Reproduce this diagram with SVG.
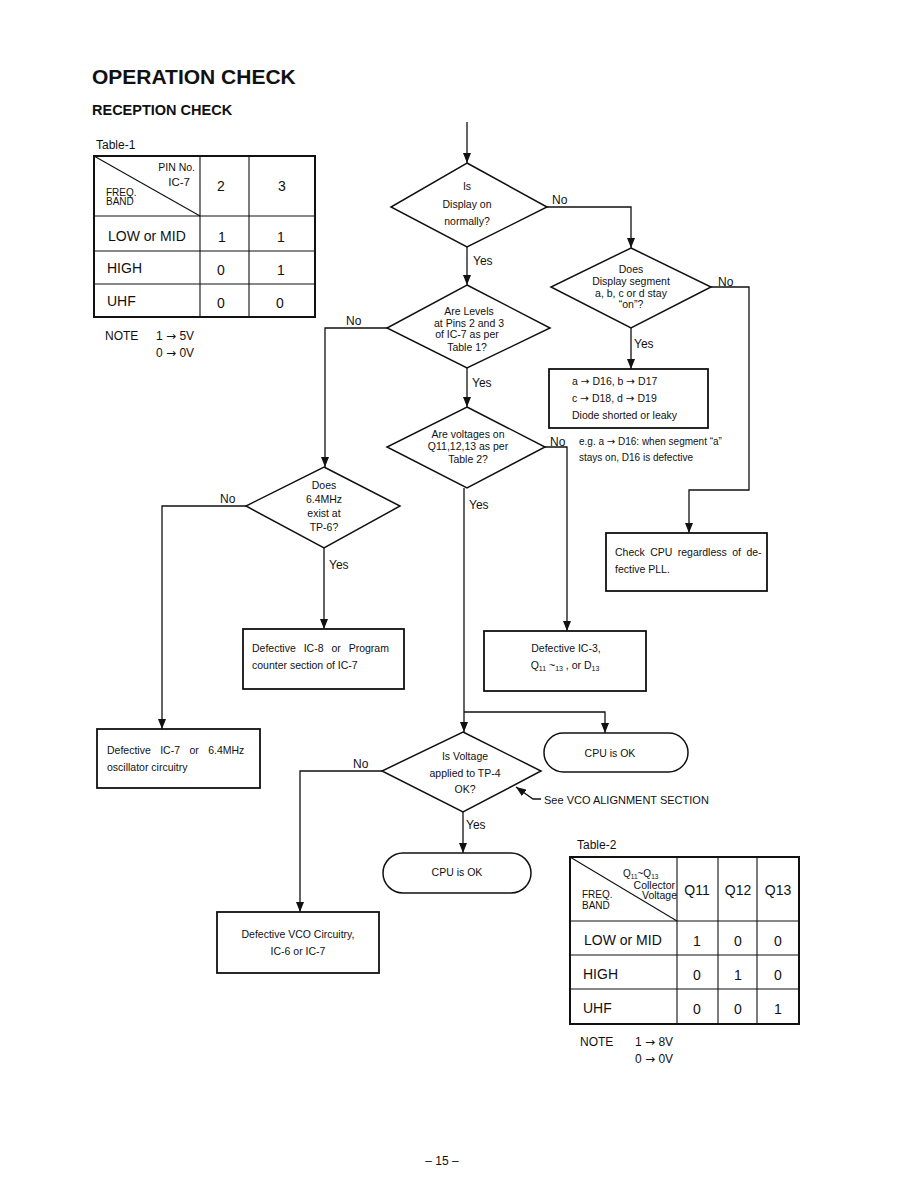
<svg xmlns="http://www.w3.org/2000/svg" width="918" height="1188" viewBox="0 0 918 1188">
<style>
text{font-family:"Liberation Sans",Arial,sans-serif;fill:#111}
.t{font-size:10.5px}
.c{text-anchor:middle}
.lbl{font-size:12px}
.shape{fill:none;stroke:#111;stroke-width:1.5}
.box{fill:none;stroke:#111;stroke-width:1.8}
.conn{fill:none;stroke:#111;stroke-width:1.3}
.tb{fill:none;stroke:#111;stroke-width:2}
.tl{fill:none;stroke:#111;stroke-width:1.1}
.cell{font-size:14px}
.ar{font-family:"DejaVu Sans",sans-serif}
</style>
<defs>
<marker id="ar" markerUnits="userSpaceOnUse" markerWidth="10" markerHeight="8" refX="10" refY="4" orient="auto" viewBox="0 0 10 8">
<path d="M0,0 L10,4 L0,8 z" fill="#111"/>
</marker>
</defs>
<rect width="918" height="1188" fill="#fff"/>

<text x="92" y="84" style="font-size:21px;font-weight:bold">OPERATION CHECK</text>
<text x="92" y="115" style="font-size:14.5px;font-weight:bold">RECEPTION CHECK</text>

<g id="table1">
<text x="96" y="149" style="font-size:12px">Table-1</text>
<rect x="94" y="156" width="221" height="161" class="tb"/>
<path d="M200,156 V317 M249,156 V317 M94,216 H315 M94,251 H315 M94,284 H315" class="tl"/>
<path d="M94,156 L200,216" class="tl"/>
<text x="195" y="171" style="font-size:10.5px" text-anchor="end">PIN No.</text>
<text x="190" y="186" style="font-size:11.5px" text-anchor="end">IC-7</text>
<text x="106" y="196" style="font-size:10px">FREQ.</text>
<text x="106" y="205" style="font-size:10px">BAND</text>
<text x="221" y="191" class="cell c">2</text>
<text x="282" y="191" class="cell c">3</text>
<text x="108" y="241" class="cell">LOW or MID</text>
<text x="222" y="242" class="cell c">1</text>
<text x="281" y="242" class="cell c">1</text>
<text x="107" y="273" class="cell">HIGH</text>
<text x="221" y="275" class="cell c">0</text>
<text x="281" y="275" class="cell c">1</text>
<text x="107" y="306" class="cell">UHF</text>
<text x="221" y="308" class="cell c">0</text>
<text x="280" y="308" class="cell c">0</text>
<text x="105" y="340" style="font-size:12px">NOTE</text>
<text x="156" y="340" style="font-size:12px">1 <tspan class="ar">→</tspan> 5V</text>
<text x="156" y="357" style="font-size:12px">0 <tspan class="ar">→</tspan> 0V</text>
</g>

<g id="connectors">
<path d="M467,122 V163" class="conn" marker-end="url(#ar)"/>
<path d="M547,207 H631 V248" class="conn" marker-end="url(#ar)"/>
<path d="M467,247 V285" class="conn" marker-end="url(#ar)"/>
<path d="M711,287 H749 V490 H689 V533" class="conn" marker-end="url(#ar)"/>
<path d="M631,328 V369" class="conn" marker-end="url(#ar)"/>
<path d="M387,328 H325 V467" class="conn" marker-end="url(#ar)"/>
<path d="M467,368 V407" class="conn" marker-end="url(#ar)"/>
<path d="M545,447 H567 V631" class="conn" marker-end="url(#ar)"/>
<path d="M246,506 H162 V729" class="conn" marker-end="url(#ar)"/>
<path d="M324,548 V629" class="conn" marker-end="url(#ar)"/>
<path d="M464,488 V732" class="conn" marker-end="url(#ar)"/>
<path d="M464,712 H605 V733" class="conn" marker-end="url(#ar)"/>
<path d="M382,771 H300 V912" class="conn" marker-end="url(#ar)"/>
<path d="M463,812 V853" class="conn" marker-end="url(#ar)"/>
<path d="M541,799 H533 L516,787" class="conn" marker-end="url(#ar)"/>
<text x="552" y="204" class="lbl">No</text>
<text x="473" y="265" class="lbl">Yes</text>
<text x="718" y="286" class="lbl">No</text>
<text x="634" y="348" class="lbl">Yes</text>
<text x="346" y="325" class="lbl">No</text>
<text x="472" y="387" class="lbl">Yes</text>
<text x="550" y="446" class="lbl">No</text>
<text x="220" y="503" class="lbl">No</text>
<text x="329" y="569" class="lbl">Yes</text>
<text x="469" y="509" class="lbl">Yes</text>
<text x="353" y="768" class="lbl">No</text>
<text x="466" y="829" class="lbl">Yes</text>
<text x="544" y="804" style="font-size:11px">See VCO ALIGNMENT SECTION</text>
</g>

<g id="d-display">
<path d="M467,163 L547,207 L467,247 L391,207 Z" class="shape"/>
<text x="467" y="190" class="t c">Is</text>
<text x="467" y="208" class="t c">Display on</text>
<text x="467" y="225" class="t c">normally?</text>
</g>

<g id="d-segment">
<path d="M631,248 L711,287 L631,328 L551,287 Z" class="shape"/>
<text x="631" y="273" class="t c">Does</text>
<text x="631" y="285" class="t c">Display segment</text>
<text x="631" y="297" class="t c">a, b, c or d stay</text>
<text x="631" y="308" class="t c">“on”?</text>
</g>

<g id="d-levels">
<path d="M467,285 L550,328 L467,368 L387,328 Z" class="shape"/>
<text x="469" y="315" class="t c">Are Levels</text>
<text x="469" y="327" class="t c">at Pins 2 and 3</text>
<text x="467" y="338" class="t c">of IC-7 as per</text>
<text x="467" y="351" class="t c">Table 1?</text>
</g>

<g id="box-diode">
<rect x="549" y="369" width="159" height="59" class="box"/>
<text x="572" y="385" class="t">a <tspan class="ar">→</tspan> D16, b <tspan class="ar">→</tspan> D17</text>
<text x="572" y="402" class="t">c <tspan class="ar">→</tspan> D18, d <tspan class="ar">→</tspan> D19</text>
<text x="572" y="419" class="t">Diode shorted or leaky</text>
</g>
<g id="note-eg">
<text x="579" y="445" style="font-size:10px">e.g. a <tspan class="ar">→</tspan> D16: when segment “a”</text>
<text x="579" y="461" style="font-size:10px">stays on, D16 is defective</text>
</g>

<g id="d-voltages">
<path d="M467,407 L545,447 L467,488 L387,447 Z" class="shape"/>
<text x="468" y="438" class="t c">Are voltages on</text>
<text x="468" y="450" class="t c">Q11,12,13 as per</text>
<text x="468" y="463" class="t c">Table 2?</text>
</g>

<g id="d-64mhz">
<path d="M324,467 L400,506 L324,548 L246,506 Z" class="shape"/>
<text x="324" y="489" class="t c">Does</text>
<text x="324" y="503" class="t c">6.4MHz</text>
<text x="324" y="517" class="t c">exist at</text>
<text x="324" y="531" class="t c">TP-6?</text>
</g>

<g id="box-checkcpu">
<rect x="606" y="533" width="161" height="58" class="box"/>
<text x="615" y="556" class="t" style="word-spacing:2.5px">Check CPU regardless of de-</text>
<text x="615" y="573" class="t">fective PLL.</text>
</g>

<g id="box-ic8">
<rect x="243" y="629" width="161" height="60" class="box"/>
<text x="252" y="652" class="t" style="word-spacing:5px">Defective IC-8 or Program</text>
<text x="252" y="669" class="t">counter section of IC-7</text>
</g>

<g id="box-ic3">
<rect x="484" y="631" width="162" height="60" class="box"/>
<text x="566" y="652" class="t c">Defective IC-3,</text>
<text x="565" y="669" class="t c">Q<tspan style="font-size:7px" dy="2">11</tspan><tspan dy="-2"> ~</tspan><tspan style="font-size:7px" dy="2">13</tspan><tspan dy="-2"> , or D</tspan><tspan style="font-size:7px" dy="2">13</tspan></text>
</g>

<g id="box-ic7">
<rect x="97" y="729" width="163" height="59" class="box"/>
<text x="107" y="754" class="t" style="word-spacing:6.5px">Defective IC-7 or 6.4MHz</text>
<text x="107" y="771" class="t">oscillator circuitry</text>
</g>

<g id="t-cpuok1">
<rect x="544" y="733" width="144" height="39" rx="19.5" class="shape"/>
<text x="610" y="757" class="t c">CPU is OK</text>
</g>

<g id="d-tp4">
<path d="M463,732 L541,771 L463,812 L382,771 Z" class="shape"/>
<text x="465" y="760" class="t c">Is Voltage</text>
<text x="465" y="777" class="t c">applied to TP-4</text>
<text x="465" y="793" class="t c">OK?</text>
</g>

<g id="t-cpuok2">
<rect x="383" y="853" width="148" height="40" rx="20" class="shape"/>
<text x="457" y="876" class="t c">CPU is OK</text>
</g>

<g id="box-vco">
<rect x="217" y="912" width="162" height="61" class="box"/>
<text x="298" y="938" class="t c">Defective VCO Circuitry,</text>
<text x="298" y="955" class="t c">IC-6 or IC-7</text>
</g>

<g id="table2">
<text x="577" y="849" style="font-size:12px">Table-2</text>
<rect x="570" y="857" width="229" height="167" class="tb"/>
<path d="M677,857 V1024 M718,857 V1024 M757,857 V1024 M570,921 H799 M570,955 H799 M570,989 H799" class="tl"/>
<path d="M570,857 L677,921" class="tl"/>
<text x="623" y="877" style="font-size:10px">Q<tspan style="font-size:6.5px" dy="2">11</tspan><tspan dy="-2">~Q</tspan><tspan style="font-size:6.5px" dy="2">13</tspan></text>
<text x="675" y="889" style="font-size:10.5px" text-anchor="end">Collector</text>
<text x="677" y="899" style="font-size:10.5px" text-anchor="end">Voltage</text>
<text x="582" y="898" style="font-size:10px">FREQ.</text>
<text x="582" y="909" style="font-size:10px">BAND</text>
<text x="697" y="895" class="cell c">Q11</text>
<text x="738" y="895" class="cell c">Q12</text>
<text x="778" y="895" class="cell c">Q13</text>
<text x="584" y="945" class="cell">LOW or MID</text>
<text x="697" y="946" class="cell c">1</text>
<text x="738" y="946" class="cell c">0</text>
<text x="778" y="946" class="cell c">0</text>
<text x="583" y="979" class="cell">HIGH</text>
<text x="697" y="980" class="cell c">0</text>
<text x="738" y="980" class="cell c">1</text>
<text x="778" y="980" class="cell c">0</text>
<text x="583" y="1013" class="cell">UHF</text>
<text x="697" y="1014" class="cell c">0</text>
<text x="738" y="1014" class="cell c">0</text>
<text x="778" y="1014" class="cell c">1</text>
<text x="580" y="1046" style="font-size:12px">NOTE</text>
<text x="635" y="1046" style="font-size:12px">1 <tspan class="ar">→</tspan> 8V</text>
<text x="635" y="1063" style="font-size:12px">0 <tspan class="ar">→</tspan> 0V</text>
</g>

<text x="442" y="1165" style="font-size:12px" text-anchor="middle">– 15 –</text>
</svg>
